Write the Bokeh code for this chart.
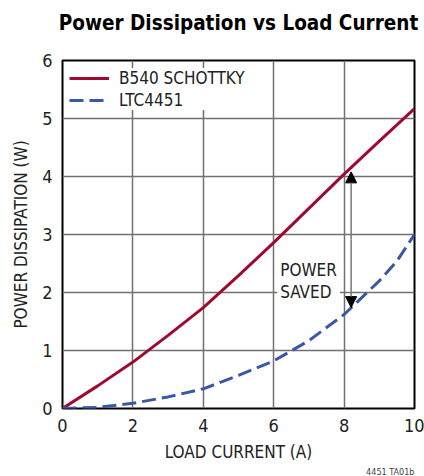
from bokeh.plotting import figure
from bokeh.models import Range1d, Label, Arrow, NormalHead, Legend, LegendItem, Title, FixedTicker
from bokeh.embed import file_html
from bokeh.resources import INLINE

# data
current = [0, 1, 2, 3, 4, 5, 6, 7, 8, 9, 9.5, 10]
schottky = [0, 0.39, 0.80, 1.26, 1.74, 2.29, 2.86, 3.45, 4.04, 4.61, 4.89, 5.17]
ltc4451 = [0, 0.02, 0.09, 0.20, 0.34, 0.57, 0.82, 1.17, 1.62, 2.20, 2.54, 3.00]
x_ticks = [0, 2, 4, 6, 8, 10]
y_ticks = [0, 1, 2, 3, 4, 5, 6]
arrow_x = 8.2
arrow_top = 4.08
arrow_bottom = 1.74
note_x = 6.1
note_y = 2.19

FONT = "'DejaVu Sans Condensed', sans-serif"
RED = "#9e0a30"
BLUE = "#3a58a8"

p = figure(width=424, height=476, output_backend="svg", toolbar_location=None,
           x_range=Range1d(0, 10), y_range=Range1d(0, 6),
           min_border_left=62, min_border_right=10, min_border_top=60, min_border_bottom=66)

p.title.text = "Power Dissipation vs Load Current"
p.title.align = "center"
p.title.text_font = FONT
p.title.text_font_size = "20.5px"
p.title.text_font_style = "bold"
p.title.text_color = "black"
p.title.standoff = 0

# spacer between the title and the plot frame
p.add_layout(Title(text=" ", text_font=FONT, text_font_size="21px", standoff=0), "above")

r1 = p.line(current, schottky, line_color=RED, line_width=3)
r2 = p.line(current, ltc4451, line_color=BLUE, line_width=3, line_dash="14 6")

for ax in (p.xaxis[0], p.yaxis[0]):
    ax.axis_line_color = None
    ax.major_tick_in = 0
    ax.major_tick_out = 0
    ax.minor_tick_line_color = None
    ax.major_label_text_font = FONT
    ax.major_label_text_font_size = "18px"
    ax.major_label_text_color = "#222222"
    ax.axis_label_text_font = FONT
    ax.axis_label_text_font_size = "17px"
    ax.axis_label_text_font_style = "normal"
    ax.axis_label_text_color = "#222222"

p.xaxis.ticker = FixedTicker(ticks=x_ticks)
p.yaxis.ticker = FixedTicker(ticks=y_ticks)
p.xaxis.axis_label = "LOAD CURRENT (A)"
p.yaxis.axis_label = "POWER DISSIPATION (W)"
p.xaxis.major_label_standoff = 10
p.yaxis.major_label_standoff = 10
p.xaxis.axis_label_standoff = 7
p.yaxis.axis_label_standoff = 8

p.grid.grid_line_color = "#707070"
p.grid.grid_line_width = 1.5
p.outline_line_color = "black"
p.outline_line_width = 2

# arrow showing power saved
mid = (arrow_top + arrow_bottom) / 2
for tip in (arrow_top, arrow_bottom):
    p.add_layout(Arrow(x_start=arrow_x, y_start=mid, x_end=arrow_x, y_end=tip,
                       line_color="#777777", line_width=1.5,
                       end=NormalHead(size=11, fill_color="black", line_color="black")))

p.add_layout(Label(x=note_x, y=note_y, text="POWER\nSAVED", text_font=FONT,
                   text_font_size="17px", text_color="#222222",
                   text_baseline="middle", text_line_height=1.1,
                   background_fill_color="white", padding=3))

legend = Legend(items=[LegendItem(label="B540 SCHOTTKY", renderers=[r1]),
                       LegendItem(label="LTC4451", renderers=[r2])],
                location=(7, 298), border_line_color=None,
                background_fill_color="white", background_fill_alpha=1.0,
                label_text_font=FONT, label_text_font_size="17px",
                label_text_color="#222222",
                glyph_width=40, glyph_height=16, label_height=16,
                spacing=2, padding=5, margin=0, label_standoff=10)
p.add_layout(legend)

p.add_layout(Title(text="4451 TA01b", align="right", text_font=FONT,
                   text_font_size="9px", text_font_style="normal", standoff=0), "below")

open("out.html", "w").write(file_html(p, INLINE))
